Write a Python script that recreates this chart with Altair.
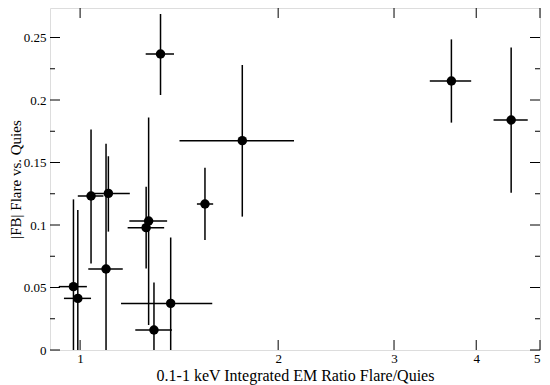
import altair as alt
import pandas as pd

# data
x = [0.977, 0.992, 1.039, 1.104, 1.095, 1.271, 1.260, 1.295, 1.373, 1.548, 1.764, 1.325, 3.667, 4.52]
x_lo = [0.928, 0.945, 0.992, 1.050, 1.029, 1.188, 1.181, 1.213, 1.154, 1.505, 1.416, 1.258, 3.40, 4.25]
x_hi = [1.024, 1.039, 1.085, 1.190, 1.161, 1.356, 1.342, 1.379, 1.588, 1.593, 2.114, 1.389, 3.93, 4.79]
y = [0.0507, 0.0413, 0.1232, 0.1253, 0.0648, 0.1032, 0.0979, 0.016, 0.0373, 0.1168, 0.1675, 0.2368, 0.2152, 0.184]
y_lo = [0, 0, 0.0693, 0.0947, 0, 0.020, 0.0653, 0, 0, 0.088, 0.1067, 0.204, 0.1819, 0.1258]
y_hi = [0.1205, 0.112, 0.1765, 0.155, 0.165, 0.186, 0.1307, 0.054, 0.090, 0.1459, 0.228, 0.2688, 0.2485, 0.2421]

x_ticks = [1, 2, 3, 4, 5]
y_major = [0, 0.05, 0.1, 0.15, 0.2, 0.25]
y_minor = [0.025, 0.075, 0.125, 0.175, 0.225]

W, H = 490, 342
FONT = "Liberation Serif"

df = pd.DataFrame({"x": x, "x_lo": x_lo, "x_hi": x_hi, "y": y, "y_lo": y_lo, "y_hi": y_hi})
xt = pd.DataFrame({"v": x_ticks})
ymaj = pd.DataFrame({"v": y_major})
ymin = pd.DataFrame({"v": y_minor})

xscale = alt.Scale(type="log", domain=[0.9, 5.0001], nice=False)
yscale = alt.Scale(domain=[0, 0.2736], nice=False, zero=False)

xaxis = alt.Axis(values=x_ticks, format="d", ticks=False, domain=False, grid=False,
                 labelPadding=2, titlePadding=2, labelFlush=2, labelOverlap=False,
                 titleFontSize=16)
yaxis = alt.Axis(values=y_major, format="~g", ticks=False, domain=False, grid=False,
                 labelPadding=4, titlePadding=0, labelFlush=False, labelOverlap=False,
                 titleFontSize=15)
XT = "0.1-1 keV Integrated EM Ratio Flare/Quies"
YT = "|FB| Flare vs. Quies"

def X(f):
    return alt.X(f, type="quantitative", scale=xscale, axis=xaxis, title=XT)

def Y(f):
    return alt.Y(f, type="quantitative", scale=yscale, axis=yaxis, title=YT)

hbar = alt.Chart(df).mark_rule(color="black", strokeWidth=1.5, clip=True).encode(
    x=X("x_lo"), x2="x_hi", y=Y("y"))
vbar = alt.Chart(df).mark_rule(color="black", strokeWidth=1.5, clip=True).encode(
    x=X("x"), y=Y("y_lo"), y2="y_hi")
pts = alt.Chart(df).mark_circle(color="black", opacity=1, size=90).encode(
    x=X("x"), y=Y("y"))

tb = alt.Chart(xt).mark_rule(color="black", strokeWidth=1).encode(
    x=X("v"), y=alt.value(H), y2=alt.value(H - 10))
tt = alt.Chart(xt).mark_rule(color="black", strokeWidth=1).encode(
    x=X("v"), y=alt.value(0), y2=alt.value(10))
tl = alt.Chart(ymaj).mark_rule(color="black", strokeWidth=1).encode(
    y=Y("v"), x=alt.value(0), x2=alt.value(10))
tr = alt.Chart(ymaj).mark_rule(color="black", strokeWidth=1).encode(
    y=Y("v"), x=alt.value(W - 10), x2=alt.value(W))
tlm = alt.Chart(ymin).mark_rule(color="black", strokeWidth=1).encode(
    y=Y("v"), x=alt.value(0), x2=alt.value(5))
trm = alt.Chart(ymin).mark_rule(color="black", strokeWidth=1).encode(
    y=Y("v"), x=alt.value(W - 5), x2=alt.value(W))

chart = alt.layer(hbar, vbar, pts, tb, tt, tl, tr, tlm, trm).properties(
    width=W, height=H,
    autosize=alt.AutoSizeParams(type="none"),
    padding={"left": 42, "top": 0, "right": 2, "bottom": 35},
).configure_view(stroke="black", strokeWidth=1.2).configure(background="white").configure_axis(
    labelFont=FONT, labelFontSize=13, labelColor="black",
    titleFont=FONT, titleFontWeight="normal", titleColor="black",
)

chart.save("out.html", embed_options={"renderer": "svg", "actions": False})
